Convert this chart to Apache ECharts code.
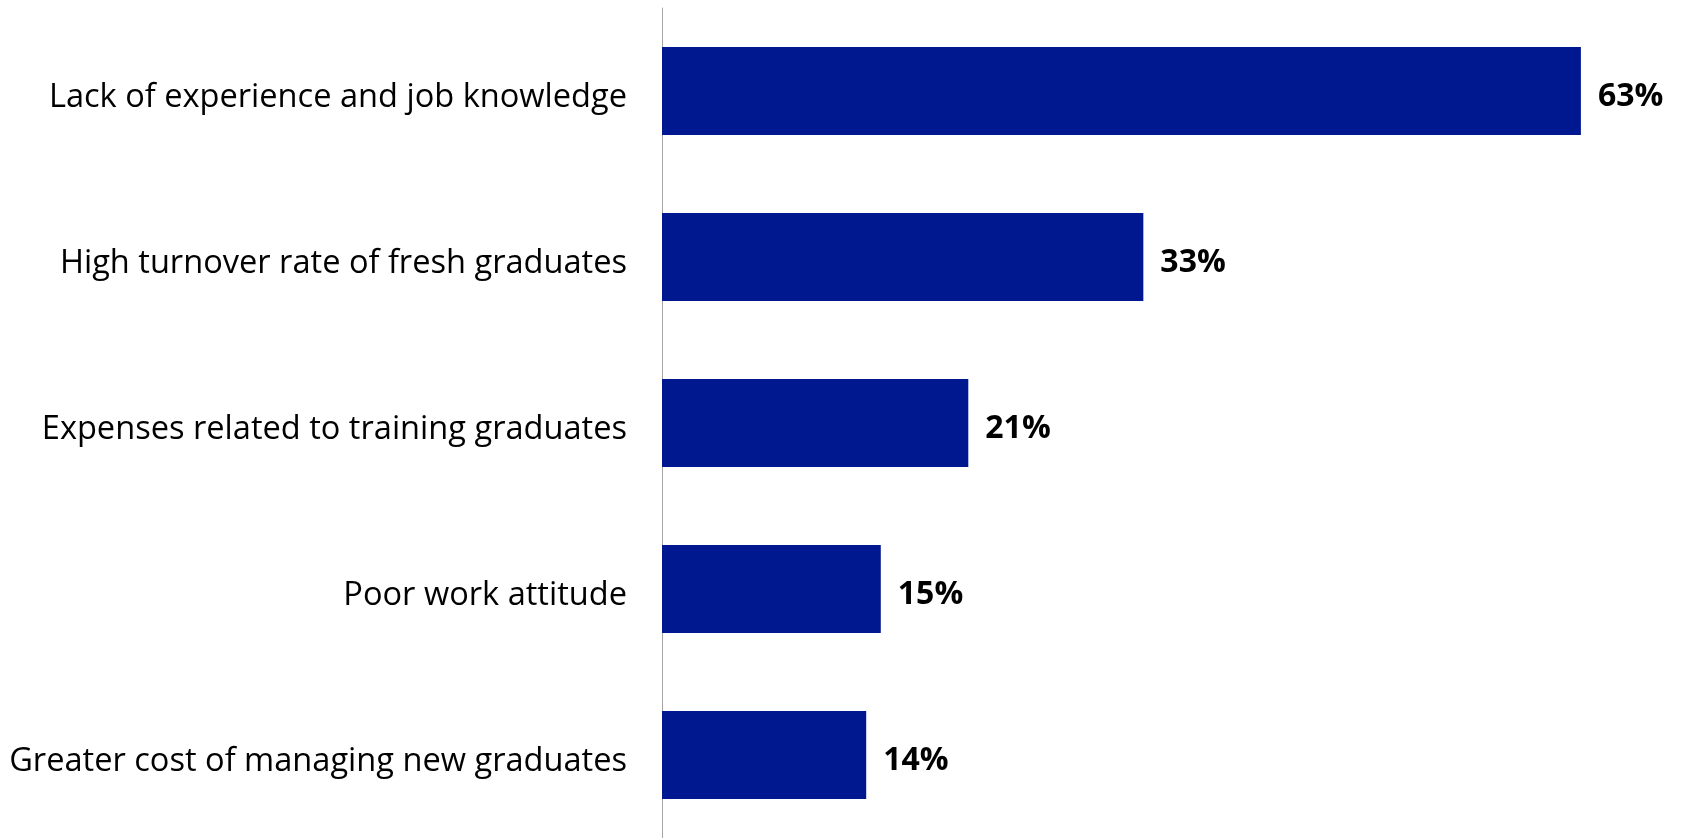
<!DOCTYPE html>
<html>
<head>
<meta charset="utf-8">
<style>
  html, body { margin: 0; padding: 0; background: #ffffff; }
  #chart { width: 1685px; height: 838px; }
</style>
<script src="https://cdn.jsdelivr.net/npm/echarts@6/dist/echarts.min.js"></script>
</head>
<body>
<div id="chart"></div>
<script>
// Reasons employers give for not hiring fresh graduates (share of respondents, %)
const categories = [
  'Lack of experience and job knowledge',
  'High turnover rate of fresh graduates',
  'Expenses related to training graduates',
  'Poor work attitude',
  'Greater cost of managing new graduates'
];
const shares = [63, 33, 21, 15, 14];

const chart = echarts.init(document.getElementById('chart'), null, { renderer: 'canvas' });

chart.setOption({
  animation: false,
  backgroundColor: '#ffffff',
  textStyle: { fontFamily: '"Open Sans", sans-serif' },
  grid: { left: 662, top: 8, width: 1021, height: 834, containLabel: false },
  xAxis: {
    type: 'value',
    min: 0,
    max: 70,
    show: false
  },
  yAxis: {
    type: 'category',
    data: categories,
    inverse: true,
    axisLine: { show: true, lineStyle: { color: '#a6a6a6', width: 1 } },
    axisTick: { show: false },
    splitLine: { show: false },
    axisLabel: {
      color: '#000000',
      fontSize: 32.6,
      fontFamily: '"Open Sans", sans-serif',
      margin: 35,
      // category names sit slightly below the bar centre
      formatter: v => '{t|' + v + '}',
      rich: {
        t: {
          color: '#000000',
          fontSize: 32.6,
          fontFamily: '"Open Sans", sans-serif',
          padding: [13, 0, 0, 0]
        }
      }
    }
  },
  series: [{
    type: 'bar',
    data: shares,
    barWidth: 88,
    itemStyle: { color: '#00188f' },
    label: {
      show: true,
      position: 'right',
      distance: 17,
      offset: [0, 6],
      formatter: p => p.value + '%',
      color: '#000000',
      fontSize: 32,
      fontWeight: 'bold',
      fontFamily: '"Open Sans", sans-serif'
    }
  }]
});
</script>
</body>
</html>
